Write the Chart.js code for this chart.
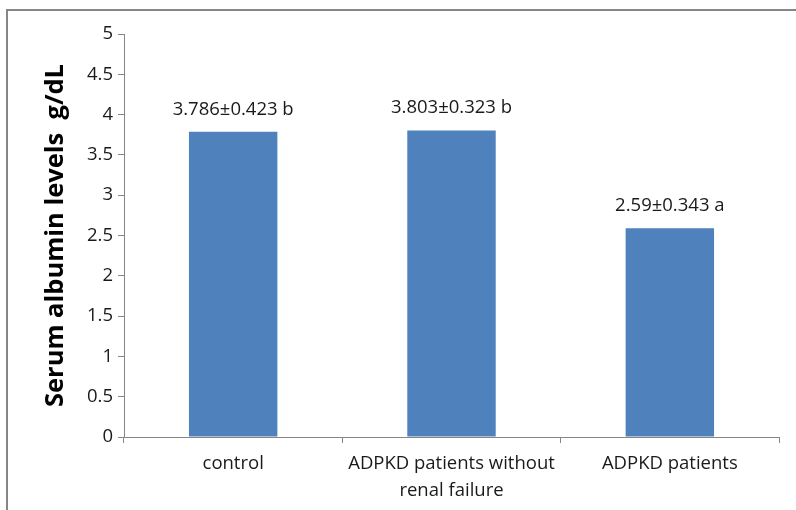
<!DOCTYPE html>
<html>
<head>
<meta charset="utf-8">
<script src="https://cdn.jsdelivr.net/npm/chart.js@4.4.1/dist/chart.umd.min.js"></script>
<style>
  html, body { margin: 0; padding: 0; background: #fff; }
  #wrap { width: 796px; height: 510px; position: relative; }
</style>
</head>
<body>
<div id="wrap"><canvas id="chart_albumin"></canvas></div>
<script>
var categories = ['control', ['ADPKD patients without', 'renal failure'], 'ADPKD patients'];
var albuminMeans = [3.786, 3.803, 2.59];
var valueLabels = ['3.786\u00b10.423 b', '3.803\u00b10.323 b', '2.59\u00b10.343 a'];

var FONT = '"Open Sans", Lato, sans-serif';

var chart_albumin = new Chart(document.getElementById('chart_albumin'), {
    type: 'bar',
    data: {
        labels: categories,
        datasets: [
            {
                label: 'Serum albumin',
                data: albuminMeans,
                backgroundColor: '#4f81bd',
                borderWidth: 0,
                categoryPercentage: 1,
                barPercentage: 0.405
            }
        ]
    },
    options: {
        animation: false,
        responsive: true,
        maintainAspectRatio: false,
        layout: {
            padding: { left: 0, right: 17, top: 34, bottom: 0 }
        },
        plugins: {
            legend: { display: false },
            tooltip: { enabled: false }
        },
        scales: {
            x: {
                afterFit: function(scale) { scale.height = 73; },
                grid: {
                    offset: true,
                    drawOnChartArea: false,
                    drawTicks: true,
                    tickLength: 6,
                    color: '#868686'
                },
                border: { display: true, color: '#868686', width: 1 },
                ticks: {
                    color: '#1a1a1a',
                    font: { family: FONT, size: 18.5, lineHeight: 1.45 },
                    padding: 7,
                    maxRotation: 0
                }
            },
            y: {
                min: 0,
                max: 5,
                afterFit: function(scale) { scale.width = 124; },
                title: {
                    display: true,
                    text: 'Serum albumin levels  g/dL',
                    color: '#000',
                    font: { family: FONT, size: 25.5, weight: 'bold', lineHeight: 1.2 },
                    padding: { top: 40, bottom: 0 }
                },
                grid: {
                    drawOnChartArea: false,
                    drawTicks: true,
                    tickLength: 6,
                    color: '#868686'
                },
                border: { display: true, color: '#868686', width: 1 },
                ticks: {
                    stepSize: 0.5,
                    color: '#1a1a1a',
                    font: { family: FONT, size: 18.5 },
                    padding: 5,
                    callback: function(value) { return String(value); }
                }
            }
        }
    },
    plugins: [{
        id: 'frameAndLabels',
        beforeDraw: function(chart) {
            var ctx = chart.ctx;
            ctx.save();
            ctx.fillStyle = 'white';
            ctx.fillRect(0, 0, chart.width, chart.height);
            ctx.strokeStyle = '#868686';
            ctx.lineWidth = 2;
            ctx.strokeRect(7, 10, chart.width + 20, chart.height + 20);
            ctx.restore();
        },
        afterDatasetsDraw: function(chart) {
            var ctx = chart.ctx;
            var meta = chart.getDatasetMeta(0);
            ctx.save();
            ctx.fillStyle = '#1a1a1a';
            ctx.font = '18.5px ' + FONT;
            ctx.textAlign = 'center';
            ctx.textBaseline = 'alphabetic';
            meta.data.forEach(function(bar, i) {
                ctx.fillText(valueLabels[i], bar.x, bar.y - 17);
            });
            ctx.restore();
        }
    }]
});
</script>
</body>
</html>
